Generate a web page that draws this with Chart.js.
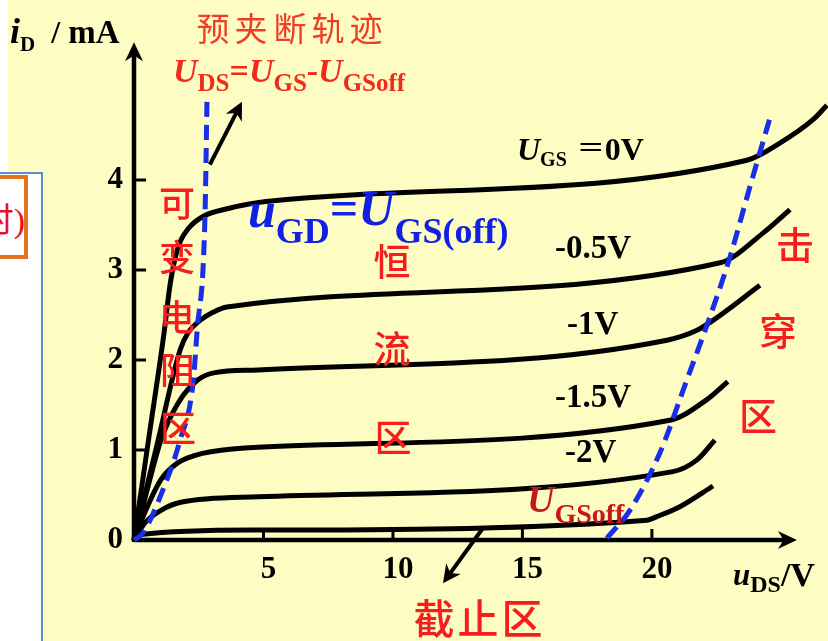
<!DOCTYPE html>
<html>
<head>
<meta charset="utf-8">
<script src="https://cdn.jsdelivr.net/npm/chart.js@4.4.1/dist/chart.umd.min.js"></script>
<style>
  html, body { margin: 0; padding: 0; background: #fff; }
  #stage { position: relative; width: 828px; height: 641px; overflow: hidden; background: #fff; }
  #paper { position: absolute; left: 8px; top: 0; width: 820px; height: 641px; background: #fdfcc2; }
  #c { position: absolute; left: 0; top: 0; }
  #sidebox { position: absolute; left: -4px; top: 172px; width: 43px; height: 480px; background: #fff; border: 2px solid #5f8bcc; }
  #tagbox { position: absolute; left: -14px; top: 175px; width: 34px; height: 76px; background: #fff; border: 4px solid #e3731f; overflow: hidden; }
  #tagbox span { position: absolute; right: -1px; top: 22px; line-height: 34px; font-size: 34px; font-family: "Noto Sans CJK SC", sans-serif; color: #e8101e; white-space: nowrap; }
  #tagbox span i { font-style: normal; font-family: "Liberation Serif", serif; }
</style>
</head>
<body>
<div id="stage">
  <div id="paper"></div>
  <canvas id="c" width="828" height="641"></canvas>
  <div id="sidebox"></div>
  <div id="tagbox"><span>时<i>)</i></span></div>
</div>
<script>
// JFET output characteristics: drain current i_D (mA) against u_DS (V)
const gateLabels = ['0V', '-0.5V', '-1V', '-1.5V', '-2V', 'UGSoff'];

const uDS_0V   = [0, 0.58, 1.16, 1.40, 1.70, 2.10, 2.70, 3.60, 5.10, 23.67, 24.94, 26.22, 26.76];
const iD_0V    = [0, 1.15, 2.30, 2.85, 3.25, 3.46, 3.60, 3.68, 3.76, 4.22, 4.41, 4.67, 4.83];

const uDS_05V  = [0, 0.9, 1.78, 2.08, 2.55, 3.05, 3.59, 22.63, 24.29, 25.33];
const iD_05V   = [0, 1.07, 2.11, 2.30, 2.44, 2.53, 2.59, 3.08, 3.41, 3.67];

const uDS_1V   = [0, 0.5, 1.04, 1.70, 2.47, 3.13, 4.79, 20.58, 21.74, 22.36, 24.17];
const iD_1V    = [0, 0.55, 1.11, 1.52, 1.78, 1.86, 1.89, 2.22, 2.33, 2.44, 2.83];

const uDS_15V  = [0, 0.35, 1.04, 1.70, 2.36, 2.97, 4.79, 20.69, 22.12, 22.93];
const iD_15V   = [0, 0.26, 0.67, 0.86, 0.94, 0.98, 1.03, 1.33, 1.56, 1.76];

const uDS_2V   = [0, 0.42, 1.04, 1.81, 4.79, 20.81, 21.74, 22.43];
const iD_2V    = [0, 0.19, 0.33, 0.42, 0.48, 0.76, 0.89, 1.11];

const uDS_off  = [0, 0.27, 4.79, 19.81, 20.19, 21.08, 22.36];
const iD_off   = [0, 0.06, 0.11, 0.22, 0.26, 0.37, 0.60];

// pre-pinch-off locus (u_GD = U_GS(off)) and breakdown boundary
const pinchU   = [0, 0.35, 1.12, 1.78, 2.28, 2.43, 2.74, 2.82];
const pinchI   = [0, 0.08, 0.56, 1.11, 1.74, 2.30, 3.59, 4.92];
const breakU   = [18.26, 19.15, 20.31, 21.35, 22.24, 23.01, 23.78, 24.56];
const breakI   = [0.02, 0.33, 0.97, 1.78, 2.48, 3.14, 3.92, 4.69];

const xTickValues = [5, 10, 15, 20];
const yTickValues = [0, 1, 2, 3, 4];

const X_MAX = 26.8, Y_MAX = 5.5;
const X_AXIS_END = 25.6, Y_AXIS_END = 5.53;

const SERIF = '"Liberation Serif", "Times New Roman", serif';
const CJK = '"Noto Sans CJK SC", "Noto Sans CJK JP", sans-serif';

const pts = (u, i) => u.map((v, k) => ({ x: v, y: i[k] }));

const curve = (u, i, label) => ({
  label,
  data: pts(u, i),
  borderColor: '#000',
  borderWidth: 5,
  pointRadius: 0,
  cubicInterpolationMode: 'monotone',
  borderJoinStyle: 'round',
  fill: false,
  clip: false,
  order: 2
});

const dashed = (u, i, label) => ({
  label,
  data: pts(u, i),
  borderColor: '#1a2ee8',
  borderWidth: 5,
  borderDash: [15, 8],
  pointRadius: 0,
  cubicInterpolationMode: 'monotone',
  fill: false,
  clip: false,
  order: 1
});

const datasets = [
  curve(uDS_0V, iD_0V, gateLabels[0]),
  curve(uDS_05V, iD_05V, gateLabels[1]),
  curve(uDS_1V, iD_1V, gateLabels[2]),
  curve(uDS_15V, iD_15V, gateLabels[3]),
  curve(uDS_2V, iD_2V, gateLabels[4]),
  curve(uDS_off, iD_off, gateLabels[5]),
  dashed(pinchU, pinchI, 'pinch-off'),
  dashed(breakU, breakI, 'breakdown')
];

function arrowHead(ctx, tx, ty, ang, len, half) {
  ctx.save();
  ctx.translate(tx, ty);
  ctx.rotate(ang);
  ctx.beginPath();
  ctx.moveTo(0, 0);
  ctx.lineTo(-len, -half);
  ctx.lineTo(-len * 0.7, 0);
  ctx.lineTo(-len, half);
  ctx.closePath();
  ctx.fill();
  ctx.restore();
}

// axes with arrow tips and inward tick marks
const arrowAxes = {
  id: 'arrowAxes',
  beforeDatasetsDraw(chart) {
    const { ctx, scales: { x, y } } = chart;
    const ox = x.getPixelForValue(0), oy = y.getPixelForValue(0);
    const xt = x.getPixelForValue(X_AXIS_END), yt = y.getPixelForValue(Y_AXIS_END);
    ctx.save();
    ctx.strokeStyle = '#000';
    ctx.fillStyle = '#000';
    ctx.lineWidth = 4.5;
    ctx.beginPath();
    ctx.moveTo(ox, oy); ctx.lineTo(xt - 8, oy);
    ctx.moveTo(ox, oy + 2); ctx.lineTo(ox, yt + 8);
    ctx.stroke();
    arrowHead(ctx, xt, oy, 0, 19, 9);
    arrowHead(ctx, ox, yt, -Math.PI / 2, 19, 9);
    ctx.lineWidth = 3;
    ctx.beginPath();
    xTickValues.forEach(v => { const px = x.getPixelForValue(v); ctx.moveTo(px, oy); ctx.lineTo(px, oy - 11); });
    yTickValues.filter(v => v > 0).forEach(v => { const py = y.getPixelForValue(v); ctx.moveTo(ox, py); ctx.lineTo(ox + 12, py); });
    ctx.stroke();
    ctx.restore();
  }
};

// pointer arrows to the pinch-off locus and the cut-off region (data units)
const pointers = [
  { from: [2.93, 4.17], to: [4.17, 4.87] },
  { from: [13.47, 0.13], to: [11.93, -0.48] }
];

const pointerPlugin = {
  id: 'pointers',
  afterDatasetsDraw(chart) {
    const { ctx, scales: { x, y } } = chart;
    ctx.save();
    ctx.strokeStyle = '#000';
    ctx.fillStyle = '#000';
    ctx.lineWidth = 4;
    pointers.forEach(p => {
      const x1 = x.getPixelForValue(p.from[0]), y1 = y.getPixelForValue(p.from[1]);
      const x2 = x.getPixelForValue(p.to[0]), y2 = y.getPixelForValue(p.to[1]);
      const ang = Math.atan2(y2 - y1, x2 - x1);
      ctx.beginPath();
      ctx.moveTo(x1, y1);
      ctx.lineTo(x2 - Math.cos(ang) * 10, y2 - Math.sin(ang) * 10);
      ctx.stroke();
      arrowHead(ctx, x2, y2, ang, 18, 9);
    });
    ctx.restore();
  }
};

// annotation text: runs of mixed fonts laid out along a baseline
const runs = [
  { x: 10, y: 43, c: '#000', r: [['i', `italic bold 36px ${SERIF}`, 0], ['D', `bold 21px ${SERIF}`, 8], ['  /', `bold 32px ${SERIF}`, 0], [' mA', `bold 33px ${SERIF}`, 0]] },
  { x: 733, y: 585, c: '#000', r: [['u', `italic bold 31px ${SERIF}`, 0], ['DS', `bold 24px ${SERIF}`, 7], ['/V', `bold 34px ${SERIF}`, 1]] },
  { x: 173, y: 82, c: '#f32a1a', r: [['U', `italic bold 34px ${SERIF}`, 0], ['DS', `bold 25px ${SERIF}`, 9], ['=', `bold 34px ${SERIF}`, 0],
      ['U', `italic bold 34px ${SERIF}`, 0], ['GS', `bold 25px ${SERIF}`, 9], ['-', `bold 34px ${SERIF}`, 0],
      ['U', `italic bold 34px ${SERIF}`, 0], ['GSoff', `bold 25px ${SERIF}`, 9]] },
  { x: 248, y: 227, c: '#1020e4', r: [['u', `italic bold 50px ${SERIF}`, 0], ['GD', `bold 36px ${SERIF}`, 16], ['=', `bold 50px ${SERIF}`, -2],
      ['U', `italic bold 50px ${SERIF}`, -2], ['GS(off)', `bold 36px ${SERIF}`, 16]] },
  { x: 517, y: 160, c: '#000', r: [['U', `italic bold 32px ${SERIF}`, 0], ['GS', `bold 20px ${SERIF}`, 6], ['  ', `bold 20px ${SERIF}`, 0],
      ['＝', `28px ${CJK}`, -2], ['0V', `bold 32px ${SERIF}`, 0]] },
  { x: 555, y: 258, c: '#000', r: [['-0.5V', `bold 33px ${SERIF}`, 0]] },
  { x: 567, y: 334, c: '#000', r: [['-1V', `bold 33px ${SERIF}`, 0]] },
  { x: 555, y: 407, c: '#000', r: [['-1.5V', `bold 33px ${SERIF}`, 0]] },
  { x: 565, y: 462, c: '#000', r: [['-2V', `bold 33px ${SERIF}`, 0]] },
  { x: 527, y: 512, c: '#c8161d', r: [['U', `italic bold 38px ${SERIF}`, 0], ['GSoff', `bold 28px ${SERIF}`, 11]] }
];

// region names, one glyph per position
const glyphs = [
  { s: '预夹断轨迹', px: [213, 251, 290, 328, 366], py: [28, 28, 28, 28, 28], size: 33, w: 'normal', c: '#ef3d26' },
  { s: '可变电阻区', px: [177, 177, 177, 178, 178], py: [203, 257, 317, 370, 428], size: 36, w: '500', c: '#f51d1d' },
  { s: '恒流区', px: [392, 392, 393], py: [262, 349, 438], size: 37, w: '500', c: '#f51d1d' },
  { s: '击穿区', px: [795, 778, 758], py: [245, 331, 416], size: 38, w: '500', c: '#f51d1d' },
  { s: '截止区', px: [434, 478, 522], py: [618, 618, 618], size: 41, w: '500', c: '#f51d1d' }
];

const textPlugin = {
  id: 'annotText',
  afterDraw(chart) {
    const ctx = chart.ctx;
    ctx.save();
    ctx.textAlign = 'left';
    ctx.textBaseline = 'alphabetic';
    runs.forEach(item => {
      let cx = item.x;
      ctx.fillStyle = item.c;
      item.r.forEach(([t, f, dy]) => {
        ctx.font = f;
        ctx.fillText(t, cx, item.y + dy);
        cx += ctx.measureText(t).width;
      });
    });
    ctx.textAlign = 'center';
    ctx.textBaseline = 'middle';
    glyphs.forEach(g => {
      ctx.fillStyle = g.c;
      ctx.font = `${g.w} ${g.size}px ${CJK}`;
      Array.from(g.s).forEach((ch, k) => ctx.fillText(ch, g.px[k], g.py[k]));
    });
    ctx.restore();
  }
};

const tickFont = { family: SERIF, size: 31, weight: 'bold' };

new Chart(document.getElementById('c'), {
  type: 'line',
  data: { datasets },
  options: {
    responsive: false,
    animation: false,
    devicePixelRatio: 1,
    layout: { padding: { top: 45, right: 0, left: 0, bottom: 0 } },
    plugins: { legend: { display: false }, tooltip: { enabled: false } },
    scales: {
      x: {
        type: 'linear', min: 0, max: X_MAX,
        grid: { display: false, drawTicks: false },
        border: { display: false },
        afterBuildTicks: s => { s.ticks = xTickValues.map(v => ({ value: v })); },
        afterFit: s => { s.height = 101; },
        ticks: { font: tickFont, color: '#000', padding: 11, labelOffset: 5, autoSkip: false, maxRotation: 0 }
      },
      y: {
        type: 'linear', min: 0, max: Y_MAX,
        grid: { display: false, drawTicks: false },
        border: { display: false },
        afterBuildTicks: s => { s.ticks = yTickValues.map(v => ({ value: v })); },
        afterFit: s => { s.width = 134; },
        ticks: { font: tickFont, color: '#000', padding: 11, autoSkip: false }
      }
    }
  },
  plugins: [arrowAxes, pointerPlugin, textPlugin]
});
</script>
</body>
</html>
